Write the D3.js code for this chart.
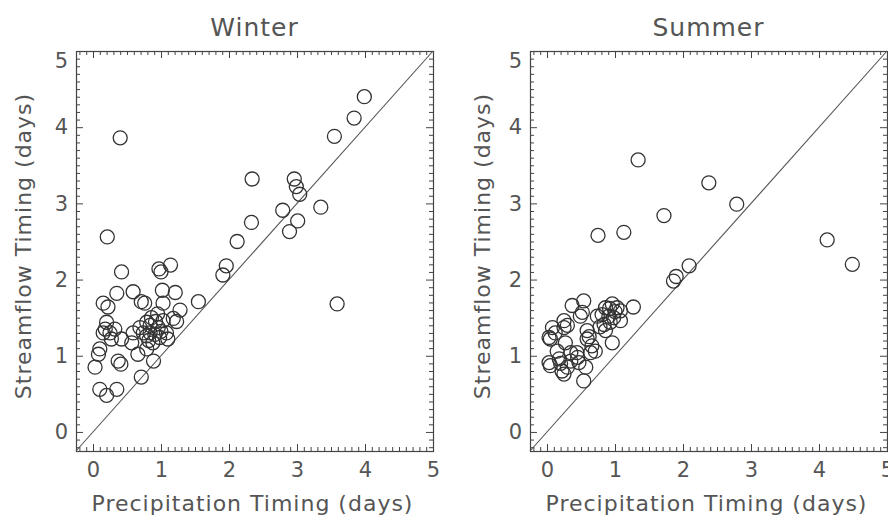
<!DOCTYPE html>
<html>
<head>
<meta charset="utf-8">
<script src="https://cdn.jsdelivr.net/npm/d3@7"></script>
<style>
  html, body { margin: 0; padding: 0; background: #fff; }
  svg { display: block; }
  text { font-family: "DejaVu Sans", sans-serif; fill: #555; }
</style>
</head>
<body>
<svg id="chart" width="888" height="519"></svg>
<script>
// ---------- data ----------
const panelTitles = ["Winter", "Summer"];
const tickValues = [0, 1, 2, 3, 4, 5];
const xLabel = "Precipitation Timing (days)";
const yLabel = "Streamflow Timing (days)";

const winterX = [0.40,3.99,3.84,3.55,2.34,2.96,2.99,3.04,3.35,2.79,2.33,3.01,2.89,2.12,0.21,1.96,1.91,0.42,0.97,1.00,1.14,3.59,1.55,0.35,0.59,1.02,1.21,0.15,0.22,0.71,0.76,1.03,1.28,1.18,1.23,
  0.03,0.08,0.10,0.10,0.20,0.35,0.71,0.37,0.41,0.89,0.66,0.79,0.15,0.18,0.25,0.32,0.27,0.20,0.42,0.57,0.59,0.69,0.79,0.84,0.86,0.91,0.96,0.98,0.88,1.08,1.10,1.03,0.79,0.74,0.84,0.92,1.00,0.82,0.95];
const winterY = [3.86,4.40,4.12,3.88,3.32,3.32,3.22,3.12,2.95,2.91,2.75,2.77,2.63,2.50,2.56,2.18,2.06,2.10,2.14,2.10,2.19,1.68,1.71,1.82,1.84,1.86,1.83,1.69,1.64,1.71,1.69,1.69,1.60,1.49,1.45,
  0.85,1.02,1.09,0.56,0.48,0.56,0.72,0.93,0.89,0.93,1.02,1.09,1.30,1.35,1.30,1.35,1.22,1.44,1.22,1.17,1.30,1.37,1.44,1.30,1.50,1.28,1.37,1.24,1.17,1.30,1.22,1.46,1.26,1.30,1.40,1.45,1.32,1.20,1.55];

const summerX = [1.34,2.38,2.79,1.72,0.75,1.13,4.12,4.49,2.09,1.90,1.86,1.27,
  0.86,0.96,1.03,1.08,0.91,0.98,1.08,0.81,0.74,0.84,0.93,0.86,0.96,
  0.54,0.37,0.52,0.49,0.59,0.59,0.66,0.71,0.64,
  0.08,0.25,0.25,0.03,0.05,0.27,0.15,0.03,0.05,0.22,0.25,0.35,0.44,0.47,0.57,0.54,0.35,0.18,
  0.12,0.30,0.20,0.30,0.62,0.78,0.45,1.00,0.92];
const summerY = [3.57,3.27,2.99,2.84,2.58,2.62,2.52,2.20,2.18,2.04,1.98,1.64,
  1.63,1.68,1.63,1.59,1.52,1.50,1.46,1.54,1.52,1.41,1.44,1.33,1.17,
  1.72,1.66,1.57,1.52,1.33,1.22,1.13,1.06,1.04,
  1.37,1.46,1.37,1.24,1.22,1.17,1.06,0.91,0.87,0.80,0.76,0.93,1.04,0.91,0.85,0.67,1.04,0.96,
  1.30,1.40,0.90,0.85,1.25,1.38,0.98,1.58,1.62];

const domain = [-0.25, 5];

// ---------- layout ----------
const svg = d3.select("#chart");
const plotW = 357, plotH = 400, plotTop = 51;
const panels = [
  { title: panelTitles[0], xs: winterX, ys: winterY, left: 76, ylabX: 23 },
  { title: panelTitles[1], xs: summerX, ys: summerY, left: 530, ylabX: 482 }
];

const minorValues = d3.range(-2, 51).map(d => d / 10).filter(d => Math.abs(d - Math.round(d)) > 1e-6);

panels.forEach(p => {
  const g = svg.append("g").attr("transform", `translate(${p.left},${plotTop})`);
  const x = d3.scaleLinear().domain(domain).range([0, plotW]);
  const y = d3.scaleLinear().domain(domain).range([plotH, 0]);

  const styleAxis = sel => {
    sel.select(".domain").remove();
    sel.selectAll(".tick line").attr("stroke", "#444").attr("stroke-width", 1);
    sel.selectAll(".tick text").style("font-size", "21px").attr("fill", "#555");
  };

  // major ticks with labels
  g.append("g").attr("transform", `translate(0,${plotH})`)
    .call(d3.axisBottom(x).tickValues(tickValues).tickSize(-7).tickPadding(11).tickFormat(d3.format("d")))
    .call(styleAxis);
  g.append("g")
    .call(d3.axisLeft(y).tickValues(tickValues).tickSize(-7).tickPadding(8).tickFormat(d3.format("d")))
    .call(styleAxis)
    .call(s => s.selectAll(".tick text").filter(d => d === 5).attr("dy", "0.8em"));
  // top/right major ticks
  g.append("g")
    .call(d3.axisTop(x).tickValues(tickValues).tickSize(-7).tickFormat(""))
    .call(styleAxis);
  g.append("g").attr("transform", `translate(${plotW},0)`)
    .call(d3.axisRight(y).tickValues(tickValues).tickSize(-7).tickFormat(""))
    .call(styleAxis);
  // minor ticks
  g.append("g").attr("transform", `translate(0,${plotH})`)
    .call(d3.axisBottom(x).tickValues(minorValues).tickSize(-4).tickFormat(""))
    .call(styleAxis);
  g.append("g")
    .call(d3.axisTop(x).tickValues(minorValues).tickSize(-4).tickFormat(""))
    .call(styleAxis);
  g.append("g")
    .call(d3.axisLeft(y).tickValues(minorValues).tickSize(-4).tickFormat(""))
    .call(styleAxis);
  g.append("g").attr("transform", `translate(${plotW},0)`)
    .call(d3.axisRight(y).tickValues(minorValues).tickSize(-4).tickFormat(""))
    .call(styleAxis);

  // box
  g.append("rect").attr("x", 0.5).attr("y", 0.5).attr("width", plotW).attr("height", plotH)
    .attr("fill", "none").attr("stroke", "#444").attr("stroke-width", 1.2);

  // 1:1 line
  const line = d3.line().x(d => x(d[0])).y(d => y(d[1]));
  g.append("path").datum([[domain[0], domain[0]], [domain[1], domain[1]]])
    .attr("d", line).attr("fill", "none").attr("stroke", "#555").attr("stroke-width", 1.1);

  // points
  const pts = p.xs.map((v, i) => [v, p.ys[i]]);
  g.append("g").selectAll("circle").data(pts).join("circle")
    .attr("cx", d => x(d[0])).attr("cy", d => y(d[1])).attr("r", 7)
    .attr("fill", "none").attr("stroke", "#333").attr("stroke-width", 1.3);

  // title
  svg.append("text").attr("x", p.left + plotW / 2).attr("y", 36)
    .attr("text-anchor", "middle").style("font-size", "25px").style("letter-spacing", "1px")
    .text(p.title);
  // x label
  svg.append("text").attr("x", p.left + plotW / 2 - 2).attr("y", 511)
    .attr("text-anchor", "middle").style("font-size", "22px").style("letter-spacing", "1px")
    .text(xLabel);
  // y label
  svg.append("text").attr("transform", `translate(${p.ylabX + 8},246) rotate(-90)`)
    .attr("text-anchor", "middle").style("font-size", "22px").style("letter-spacing", "1px")
    .text(yLabel);
});
</script>
</body>
</html>
